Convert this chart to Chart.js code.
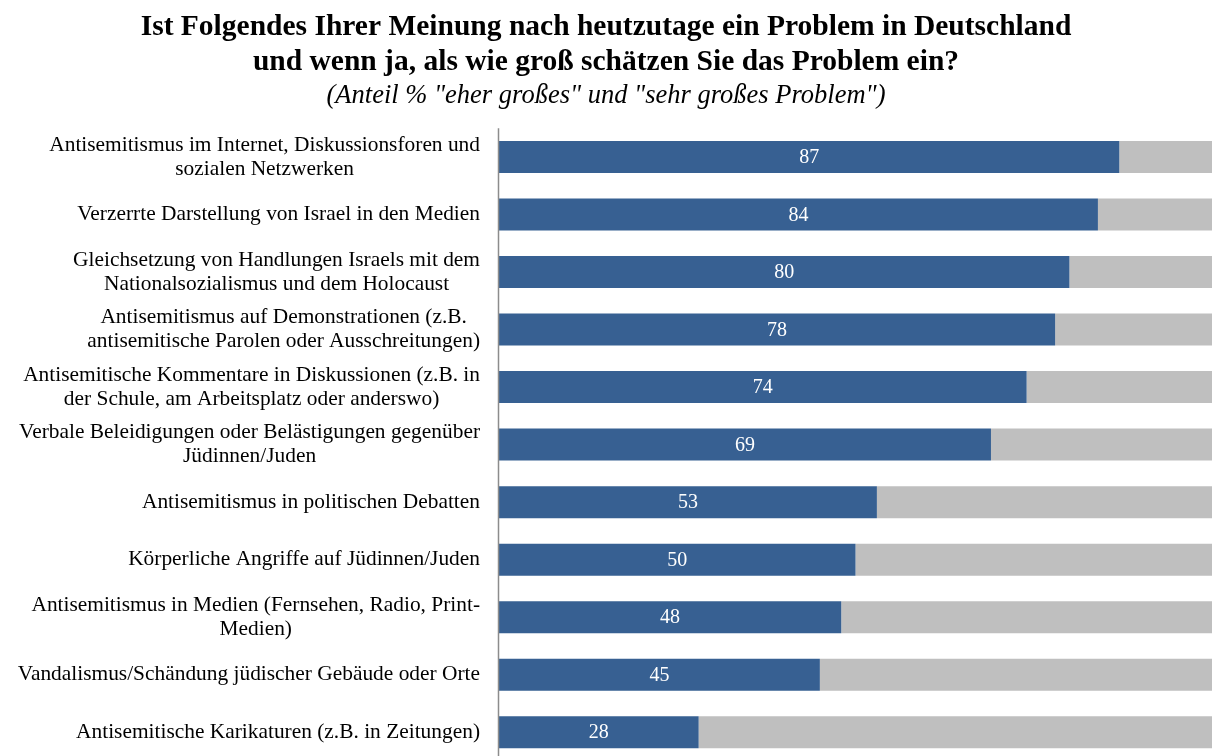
<!DOCTYPE html>
<html>
<head>
<meta charset="utf-8">
<script src="https://cdn.jsdelivr.net/npm/chart.js@4/dist/chart.umd.min.js"></script>
<style>
  html, body { margin: 0; padding: 0; background: #fff; overflow: hidden; }
  #wrap { width: 1216px; height: 762px; position: relative; }
</style>
</head>
<body>
<div id="wrap"><canvas id="chart"></canvas></div>
<script>
var categories = [
    ['Antisemitismus im Internet, Diskussionsforen und', 'sozialen Netzwerken'],
    ['Verzerrte Darstellung von Israel in den Medien'],
    ['Gleichsetzung von Handlungen Israels mit dem', 'Nationalsozialismus und dem Holocaust'],
    ['Antisemitismus auf Demonstrationen (z.B.', 'antisemitische Parolen oder Ausschreitungen)'],
    ['Antisemitische Kommentare in Diskussionen (z.B. in', 'der Schule, am Arbeitsplatz oder anderswo)'],
    ['Verbale Beleidigungen oder Belästigungen gegenüber', 'Jüdinnen/Juden'],
    ['Antisemitismus in politischen Debatten'],
    ['Körperliche Angriffe auf Jüdinnen/Juden'],
    ['Antisemitismus in Medien (Fernsehen, Radio, Print-', 'Medien)'],
    ['Vandalismus/Schändung jüdischer Gebäude oder Orte'],
    ['Antisemitische Karikaturen (z.B. in Zeitungen)']
];
var problemValues = [87, 84, 80, 78, 74, 69, 53, 50, 48, 45, 28];
var restValues = problemValues.map(function(v){ return 100 - v; });

var serif = '"Liberation Serif", "Times New Roman", serif';

// category labels: block right aligned, lines centered in the block
var labelPlugin = {
    id: 'labelPlugin',
    afterDraw: function(chart){
        var ctx = chart.ctx;
        var yScale = chart.scales.y;
        var right = chart.chartArea.left - 19;
        var lh = 24;
        ctx.save();
        ctx.font = '21.4px ' + serif;
        ctx.fillStyle = '#000';
        ctx.textAlign = 'center';
        ctx.textBaseline = 'middle';
        categories.forEach(function(lines, i){
            var maxW = 0;
            lines.forEach(function(l){ maxW = Math.max(maxW, ctx.measureText(l).width); });
            var cx = right - maxW / 2;
            var cy = yScale.getPixelForValue(i);
            var y0 = cy - (lines.length - 1) * lh / 2;
            lines.forEach(function(l, k){ ctx.fillText(l, cx, y0 + k * lh); });
        });
        // value labels in the blue bars
        var meta = chart.getDatasetMeta(0);
        ctx.font = '20px ' + serif;
        ctx.fillStyle = '#fff';
        meta.data.forEach(function(bar, i){
            ctx.fillText(String(problemValues[i]), (bar.base + bar.x) / 2, bar.y + 1);
        });
        // vertical axis line
        ctx.strokeStyle = '#8c8c8c';
        ctx.lineWidth = 1.5;
        ctx.beginPath();
        ctx.moveTo(chart.chartArea.left - 0.5, chart.chartArea.top);
        ctx.lineTo(chart.chartArea.left - 0.5, chart.chartArea.bottom);
        ctx.stroke();
        ctx.restore();
    }
};

var ctx = document.getElementById('chart');
var myChart = new Chart(ctx, {
    type: 'bar',
    data: {
        labels: categories.map(function(c){ return c.join(' '); }),
        datasets: [{
            label: 'Problem',
            data: problemValues,
            backgroundColor: '#376092',
            categoryPercentage: 1,
            barPercentage: 0.556
        }, {
            label: 'Rest',
            data: restValues,
            backgroundColor: '#bfbfbf',
            categoryPercentage: 1,
            barPercentage: 0.556
        }]
    },
    options: {
        indexAxis: 'y',
        responsive: true,
        maintainAspectRatio: false,
        animation: false,
        layout: { padding: { left: 0, right: 4, top: 0, bottom: 1 } },
        scales: {
            x: { stacked: true, min: 0, max: 100, display: false },
            y: {
                stacked: true,
                ticks: { display: false },
                grid: { display: false, drawTicks: false },
                border: { display: false },
                afterFit: function(scale){ scale.width = 499; }
            }
        },
        plugins: {
            legend: { display: false },
            tooltip: { enabled: false },
            title: {
                display: true,
                text: ['Ist Folgendes Ihrer Meinung nach heutzutage ein Problem in Deutschland',
                       'und wenn ja, als wie groß schätzen Sie das Problem ein?'],
                color: '#000',
                font: { family: serif, size: 29.5, weight: 'bold', lineHeight: 1.19 },
                padding: { top: 10, bottom: 0 }
            },
            subtitle: {
                display: true,
                text: '(Anteil % "eher großes" und "sehr großes Problem")',
                color: '#000',
                font: { family: serif, size: 26.5, style: 'italic', lineHeight: 1.17 },
                padding: { top: 0, bottom: 17 }
            }
        }
    },
    plugins: [labelPlugin]
});
</script>
</body>
</html>
